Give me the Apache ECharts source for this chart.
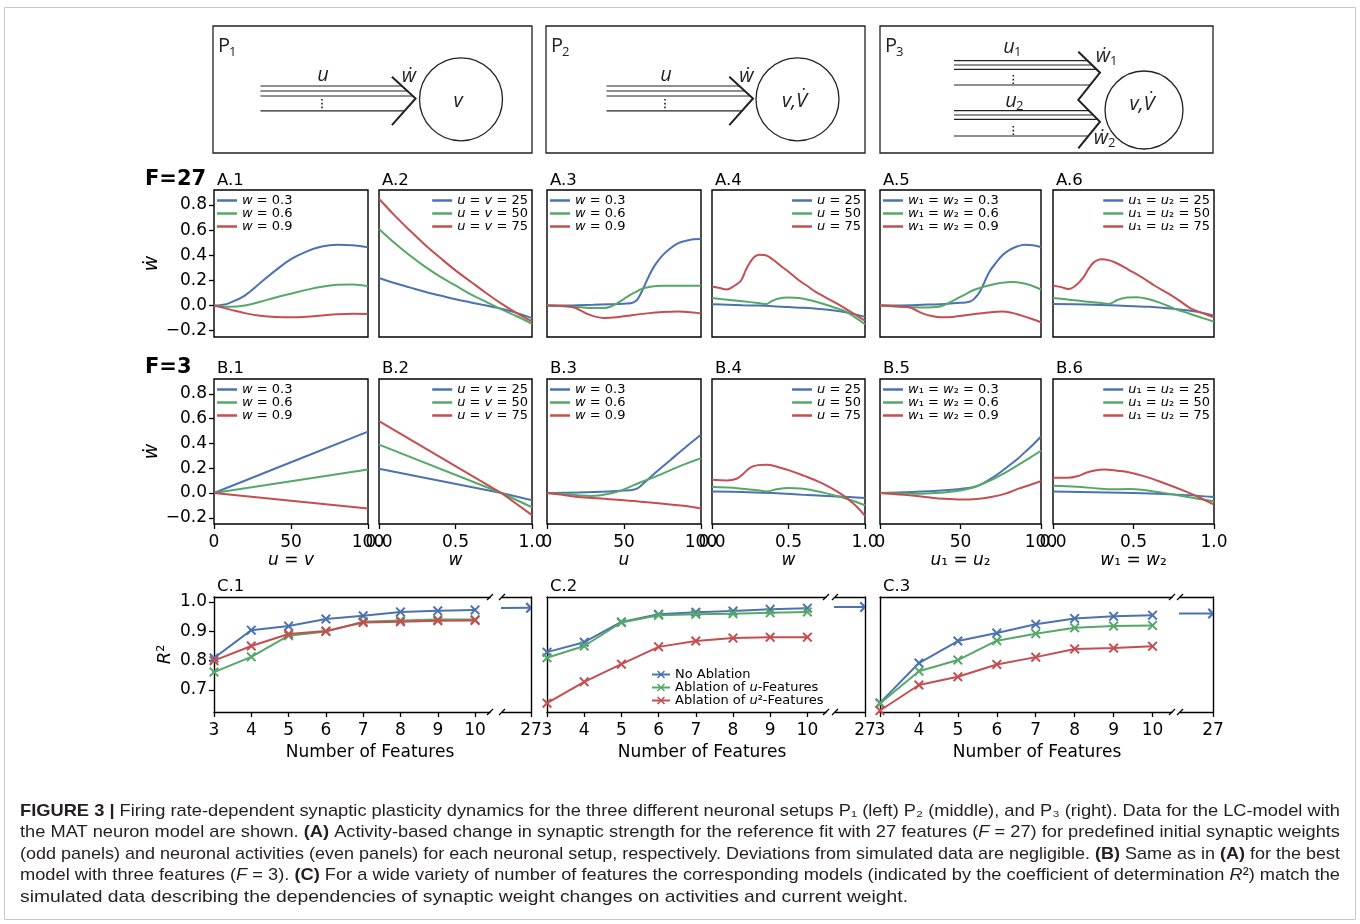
<!DOCTYPE html>
<html>
<head>
<meta charset="utf-8">
<script src="https://cdn.jsdelivr.net/npm/echarts@6/dist/echarts.min.js"></script>
<style>
html, body { margin: 0; padding: 0; background: #fff; }
#chart { width: 1360px; height: 924px; }
</style>
</head>
<body>
<div id="chart"></div>
<script>
// colours (seaborn "deep")
var blue = '#4c72b0', green = '#55a868', red = '#c44e52';

// ---- legend names ----
var wNames = ['w = 0.3', 'w = 0.6', 'w = 0.9'];
var uvNames = ['u = v = 25', 'u = v = 50', 'u = v = 75'];
var uNames = ['u = 25', 'u = 50', 'u = 75'];
var w12Names = ['w₁ = w₂ = 0.3', 'w₁ = w₂ = 0.6', 'w₁ = w₂ = 0.9'];
var u12Names = ['u₁ = u₂ = 25', 'u₁ = u₂ = 50', 'u₁ = u₂ = 75'];
var xNamesB = ['u = v', 'w', 'u', 'w', 'u₁ = u₂', 'w₁ = w₂'];
var yTicksAB = [-0.2, 0, 0.2, 0.4, 0.6, 0.8];

// ---- F = 27 (row A), [x, dw] ----
var a1_w03 = [[0,0],[5,0.005],[10,0.02],[20,0.08],[30,0.18],[40,0.28],[50,0.37],[60,0.43],[70,0.47],[80,0.485],[90,0.48],[100,0.465]];
var a1_w06 = [[0,0],[5,-0.006],[10,-0.01],[20,0],[30,0.03],[40,0.065],[50,0.095],[60,0.125],[70,0.15],[80,0.165],[90,0.168],[100,0.155]];
var a1_w09 = [[0,0],[10,-0.03],[20,-0.06],[30,-0.08],[40,-0.09],[50,-0.092],[60,-0.088],[70,-0.078],[80,-0.068],[90,-0.064],[100,-0.067]];

var a2_25 = [[0,0.22],[0.1,0.18],[0.2,0.145],[0.3,0.11],[0.4,0.08],[0.5,0.05],[0.6,0.025],[0.7,0],[0.8,-0.025],[0.9,-0.058],[1,-0.1]];
var a2_50 = [[0,0.61],[0.1,0.5],[0.2,0.4],[0.3,0.31],[0.4,0.23],[0.5,0.16],[0.6,0.09],[0.7,0.03],[0.8,-0.03],[0.9,-0.085],[1,-0.145]];
var a2_75 = [[0,0.85],[0.1,0.72],[0.2,0.6],[0.3,0.485],[0.4,0.38],[0.5,0.28],[0.6,0.19],[0.7,0.1],[0.8,0.015],[0.9,-0.06],[1,-0.125]];

var a3_w03 = [[0,0],[10,0],[20,0.003],[30,0.006],[40,0.01],[50,0.015],[55,0.02],[58,0.04],[60,0.075],[63,0.15],[66,0.23],[70,0.32],[75,0.4],[80,0.455],[85,0.495],[90,0.515],[95,0.528],[100,0.53]];
var a3_w06 = [[0,0],[10,-0.005],[20,-0.012],[30,-0.02],[37,-0.02],[42,-0.005],[47,0.03],[52,0.07],[57,0.105],[62,0.135],[68,0.152],[75,0.158],[85,0.158],[100,0.158]];
var a3_w09 = [[0,0],[10,-0.003],[17,-0.013],[22,-0.04],[27,-0.07],[32,-0.09],[37,-0.098],[45,-0.093],[55,-0.076],[65,-0.062],[75,-0.052],[85,-0.048],[95,-0.055],[100,-0.063]];

var a4_25 = [[0,0.01],[0.1,0.007],[0.2,0.003],[0.3,0],[0.4,-0.005],[0.5,-0.012],[0.6,-0.018],[0.7,-0.027],[0.8,-0.04],[0.9,-0.06],[1,-0.09]];
var a4_50 = [[0,0.06],[0.1,0.047],[0.2,0.034],[0.3,0.021],[0.355,0.013],[0.39,0.035],[0.43,0.055],[0.5,0.064],[0.57,0.06],[0.65,0.04],[0.73,0.013],[0.8,-0.015],[0.87,-0.045],[0.93,-0.09],[1,-0.147]];
var a4_75 = [[0,0.152],[0.05,0.14],[0.095,0.128],[0.15,0.16],[0.19,0.2],[0.22,0.28],[0.25,0.347],[0.28,0.39],[0.31,0.405],[0.35,0.4],[0.4,0.365],[0.45,0.315],[0.5,0.27],[0.57,0.2],[0.63,0.15],[0.68,0.107],[0.75,0.06],[0.84,0],[0.92,-0.06],[1,-0.12]];

var a5_w03 = [[0,0],[10,0.001],[20,0.003],[30,0.008],[40,0.013],[50,0.022],[56,0.032],[59,0.06],[62,0.11],[65,0.19],[68,0.27],[72,0.34],[76,0.4],[80,0.44],[85,0.47],[90,0.485],[95,0.48],[100,0.467]];
var a5_w06 = [[0,0],[10,-0.007],[20,-0.013],[30,-0.015],[35,-0.012],[40,0.005],[47,0.05],[53,0.09],[59,0.128],[65,0.152],[70,0.168],[76,0.182],[82,0.187],[88,0.18],[94,0.16],[100,0.128]];
var a5_w09 = [[0,0],[10,-0.005],[18,-0.013],[22,-0.035],[26,-0.06],[32,-0.083],[38,-0.093],[45,-0.09],[52,-0.078],[59,-0.067],[67,-0.055],[76,-0.048],[82,-0.058],[88,-0.08],[94,-0.105],[100,-0.133]];

var a6_25 = [[0,0.013],[0.2,0.008],[0.4,0],[0.6,-0.01],[0.76,-0.027],[0.9,-0.05],[1,-0.08]];
var a6_50 = [[0,0.061],[0.1,0.047],[0.2,0.033],[0.3,0.02],[0.345,0.013],[0.4,0.045],[0.46,0.064],[0.52,0.067],[0.59,0.053],[0.67,0.02],[0.76,-0.027],[0.85,-0.065],[0.93,-0.1],[1,-0.128]];
var a6_75 = [[0,0.16],[0.05,0.147],[0.097,0.133],[0.15,0.17],[0.19,0.227],[0.22,0.29],[0.25,0.34],[0.3,0.368],[0.35,0.36],[0.39,0.341],[0.47,0.285],[0.55,0.227],[0.63,0.16],[0.72,0.093],[0.79,0.035],[0.86,-0.027],[0.93,-0.06],[1,-0.093]];

// ---- F = 3 (row B) ----
var b1_w03 = [[0,0],[50,0.248],[100,0.495]];
var b1_w06 = [[0,0],[50,0.095],[100,0.19]];
var b1_w09 = [[0,0],[50,-0.062],[100,-0.125]];

var b2_25 = [[0,0.195],[0.8,0],[1,-0.058]];
var b2_50 = [[0,0.39],[0.8,0],[1,-0.115]];
var b2_75 = [[0,0.58],[0.8,0],[1,-0.178]];

var b3_w03 = [[0,0],[20,0.005],[40,0.013],[50,0.02],[56,0.027],[59,0.04],[62,0.07],[70,0.16],[80,0.265],[90,0.37],[100,0.47]];
var b3_w06 = [[0,0],[10,-0.008],[20,-0.018],[28,-0.024],[35,-0.018],[45,0.008],[52,0.04],[60,0.083],[70,0.13],[82,0.195],[90,0.235],[100,0.28]];
var b3_w09 = [[0,0],[10,-0.015],[20,-0.032],[35,-0.045],[50,-0.058],[65,-0.074],[80,-0.092],[90,-0.105],[100,-0.125]];

var b4_25 = [[0,0.013],[0.2,0.008],[0.4,0],[0.6,-0.015],[0.75,-0.025],[0.9,-0.032],[1,-0.04]];
var b4_50 = [[0,0.048],[0.1,0.045],[0.2,0.035],[0.3,0.022],[0.356,0.013],[0.42,0.03],[0.5,0.04],[0.58,0.037],[0.66,0.021],[0.75,-0.003],[0.84,-0.032],[0.92,-0.062],[1,-0.099]];
var b4_75 = [[0,0.107],[0.1,0.101],[0.16,0.115],[0.2,0.15],[0.25,0.205],[0.3,0.225],[0.356,0.229],[0.43,0.21],[0.51,0.181],[0.6,0.14],[0.7,0.09],[0.78,0.04],[0.84,-0.005],[0.9,-0.06],[0.95,-0.115],[1,-0.184]];

var b5_w03 = [[0,0],[20,0.008],[40,0.022],[55,0.04],[60,0.055],[65,0.085],[70,0.125],[75,0.17],[80,0.22],[85,0.27],[90,0.33],[95,0.39],[100,0.456]];
var b5_w06 = [[0,0],[20,-0.005],[40,0.005],[50,0.02],[60,0.055],[70,0.11],[80,0.18],[90,0.26],[100,0.341]];
var b5_w09 = [[0,0],[15,-0.015],[28,-0.032],[40,-0.047],[51,-0.053],[60,-0.048],[69,-0.032],[78,-0.005],[86,0.035],[93,0.065],[100,0.096]];

var b6_25 = [[0,0.013],[0.5,0],[0.8,-0.015],[1,-0.032]];
var b6_50 = [[0,0.059],[0.15,0.05],[0.3,0.035],[0.36,0.03],[0.47,0.032],[0.55,0.027],[0.65,0.008],[0.75,-0.012],[0.85,-0.035],[1,-0.067]];
var b6_75 = [[0,0.123],[0.09,0.123],[0.15,0.135],[0.21,0.165],[0.26,0.182],[0.32,0.189],[0.4,0.18],[0.47,0.168],[0.58,0.13],[0.7,0.075],[0.8,0.025],[0.9,-0.03],[1,-0.093]];

// ---- R^2 vs number of features (row C) ----
var featureCounts = [3, 4, 5, 6, 7, 8, 9, 10];
var featureTicksFull = [27];
var r2Ticks = [0.7, 0.8, 0.9, 1.0];
var c1NoAbl = [0.809, 0.904, 0.918, 0.942, 0.953, 0.966, 0.970, 0.973];
var c1AblU  = [0.761, 0.813, 0.885, 0.899, 0.933, 0.937, 0.940, 0.940];
var c1AblU2 = [0.800, 0.850, 0.891, 0.901, 0.930, 0.933, 0.936, 0.937];
var c2NoAbl = [0.829, 0.863, 0.932, 0.958, 0.965, 0.969, 0.975, 0.979];
var c2AblU  = [0.810, 0.850, 0.930, 0.955, 0.958, 0.960, 0.963, 0.966];
var c2AblU2 = [0.655, 0.728, 0.788, 0.847, 0.867, 0.877, 0.880, 0.880];
var c3NoAbl = [0.656, 0.792, 0.867, 0.894, 0.924, 0.944, 0.951, 0.955];
var c3AblU  = [0.654, 0.764, 0.802, 0.868, 0.892, 0.912, 0.918, 0.920];
var c3AblU2 = [0.630, 0.717, 0.745, 0.787, 0.812, 0.840, 0.843, 0.849];
var fullModelR2 = [0.980, 0.983, 0.961];   // F = 27, no ablation
var cNames = ['No Ablation', 'Ablation of u-Features', 'Ablation of u²-Features'];

// ---------------- layout ----------------
var colX = [214, 379, 547, 712, 880, 1053];
var colW = [154, 153, 154, 153, 161, 161];
var rowTop = [190, 379], rowH = [147, 145];
var cTop = 597, cH = 115;
var cMainL = [214, 547, 880], cMainW = [276, 279, 292], cMainMax = [10.4, 10.5, 10.5];
var cRightL = [502, 835, 1180], cRightW = [29, 30, 33];

var panels = [
    { title: 'A.1', names: wNames,   data: [a1_w03, a1_w06, a1_w09], xmax: 100 },
    { title: 'A.2', names: uvNames,  data: [a2_25, a2_50, a2_75],    xmax: 1 },
    { title: 'A.3', names: wNames,   data: [a3_w03, a3_w06, a3_w09], xmax: 100 },
    { title: 'A.4', names: uNames,   data: [a4_25, a4_50, a4_75],    xmax: 1 },
    { title: 'A.5', names: w12Names, data: [a5_w03, a5_w06, a5_w09], xmax: 100 },
    { title: 'A.6', names: u12Names, data: [a6_25, a6_50, a6_75],    xmax: 1 },
    { title: 'B.1', names: wNames,   data: [b1_w03, b1_w06, b1_w09], xmax: 100, straight: true },
    { title: 'B.2', names: uvNames,  data: [b2_25, b2_50, b2_75],    xmax: 1, straight: true },
    { title: 'B.3', names: wNames,   data: [b3_w03, b3_w06, b3_w09], xmax: 100 },
    { title: 'B.4', names: uNames,   data: [b4_25, b4_50, b4_75],    xmax: 1 },
    { title: 'B.5', names: w12Names, data: [b5_w03, b5_w06, b5_w09], xmax: 100 },
    { title: 'B.6', names: u12Names, data: [b6_25, b6_50, b6_75],    xmax: 1 }
];
var cPanels = [
    { title: 'C.1', data: [c1NoAbl, c1AblU, c1AblU2] },
    { title: 'C.2', data: [c2NoAbl, c2AblU, c2AblU2] },
    { title: 'C.3', data: [c3NoAbl, c3AblU, c3AblU2] }
];

var FONT = 'DejaVu Sans';
var colors = [blue, green, red];
var xSym = 'path://M0,1.4L1.4,0L5,3.6L8.6,0L10,1.4L6.4,5L10,8.6L8.6,10L5,6.4L1.4,10L0,8.6L3.6,5Z';
var arrowSym = 'path://M0,1.4L1.4,0L5,3.6L5,6.4L1.4,10L0,8.6L3.6,5Z';
var tickStyle = { color: '#000', width: 1.3 };
var labelStyle = { color: '#000', fontSize: 17, fontFamily: FONT };
var italicRich = { i: { fontStyle: 'italic', fontSize: 13, fontFamily: FONT, color: '#000' } };

function fmt1(v) { return (Math.round(v * 10) / 10).toFixed(1).replace('-', '−'); }
function italicVars(s) { return s.replace(/([uvw])/g, '{i|$1}'); }

var grids = [], xAxes = [], yAxes = [], series = [], legends = [], graphic = [];

function addText(x, y, text, opts) {
    opts = opts || {};
    graphic.push({
        type: 'text', x: x, y: y, silent: true,
        style: {
            text: text, fill: opts.color || '#000',
            fontSize: opts.size || 16, fontFamily: opts.font || FONT,
            fontWeight: opts.weight || 'normal', fontStyle: opts.style || 'normal',
            align: opts.align || 'left', verticalAlign: 'middle',
            rich: opts.rich
        }
    });
}

// ---------------- rows A and B ----------------
panels.forEach(function (pn, p) {
    var r = Math.floor(p / 6), c = p % 6;
    grids.push({ left: colX[c], top: rowTop[r], width: colW[c], height: rowH[r],
        show: true, borderColor: '#000', borderWidth: 1.4 });
    var isW = pn.xmax === 1;
    xAxes.push({
        gridIndex: p, type: 'value', min: 0, max: pn.xmax, interval: pn.xmax / 2, position: 'bottom',
        axisLine: { show: false, onZero: false }, splitLine: { show: false },
        axisTick: r === 1 ? { show: true, inside: false, length: 5, lineStyle: tickStyle } : { show: false },
        axisLabel: r === 1 ? Object.assign({ show: true, margin: 10, showMinLabel: true, showMaxLabel: true,
            formatter: function (v) { return isW ? v.toFixed(1) : String(v); } }, labelStyle) : { show: false },
        name: r === 1 ? italicVars(xNamesB[c]) : '',
        nameLocation: 'middle', nameGap: 25,
        nameTextStyle: { fontSize: 17, fontFamily: FONT, color: '#000',
            rich: { i: { fontStyle: 'italic', fontSize: 17, fontFamily: FONT, color: '#000' } } }
    });
    yAxes.push({
        gridIndex: p, type: 'value', min: -0.25, max: 0.92,
        axisLine: { show: false, onZero: false }, splitLine: { show: false },
        axisTick: c === 0 ? { show: true, inside: false, length: 5, lineStyle: tickStyle, customValues: yTicksAB } : { show: false },
        axisLabel: c === 0 ? Object.assign({ show: true, margin: 7, customValues: yTicksAB, formatter: fmt1 }, labelStyle) : { show: false },
        name: c === 0 ? 'ẇ' : '', nameLocation: 'middle', nameGap: 44, nameRotate: 90,
        nameTextStyle: { fontStyle: 'italic', fontSize: 19, fontFamily: FONT, color: '#000' }
    });
    pn.data.forEach(function (d, k) {
        series.push({
            type: 'line', name: pn.names[k], xAxisIndex: p, yAxisIndex: p,
            data: d, symbol: 'none', smooth: pn.straight ? false : 0.4,
            color: colors[k], lineStyle: { width: 2, color: colors[k] }, silent: true, z: 3
        });
    });
    var leg = {
        orient: 'vertical', top: rowTop[r] + 4, padding: 0, itemGap: 0,
        icon: 'rect', itemWidth: 20, itemHeight: 2.5, selectedMode: false, data: pn.names,
        formatter: italicVars,
        textStyle: { fontSize: 13, lineHeight: 13, fontFamily: FONT, color: '#000', rich: italicRich }
    };
    if (c % 2 === 0) leg.left = colX[c] + 3; else leg.right = 1360 - (colX[c] + colW[c]) + 4;
    legends.push(leg);
    addText(colX[c] + 3, r === 0 ? 181 : 369, pn.title, { size: 16.5 });
});

addText(145, 180, 'F=27', { size: 21, weight: 'bold' });
addText(145, 368, 'F=3', { size: 21, weight: 'bold' });

// ---------------- row C ----------------
cPanels.forEach(function (pn, k) {
    var gMain = 12 + 2 * k, gRight = 13 + 2 * k;
    var xb = 12 + 4 * k;
    grids.push({ left: cMainL[k], top: cTop, width: cMainW[k], height: cH });
    grids.push({ left: cRightL[k], top: cTop, width: cRightW[k], height: cH });
    var line = { show: true, onZero: false, lineStyle: { color: '#000', width: 1.4 } };
    // main: bottom + top
    xAxes.push({ gridIndex: gMain, type: 'value', min: 3, max: cMainMax[k], position: 'bottom',
        axisLine: line, splitLine: { show: false },
        axisTick: { show: true, inside: false, length: 5, lineStyle: tickStyle, customValues: featureCounts },
        axisLabel: Object.assign({ show: true, margin: 10, customValues: featureCounts }, labelStyle) });
    xAxes.push({ gridIndex: gMain, type: 'value', min: 3, max: cMainMax[k], position: 'top',
        axisLine: line, splitLine: { show: false }, axisTick: { show: false }, axisLabel: { show: false } });
    // right: bottom + top
    xAxes.push({ gridIndex: gRight, type: 'value', min: 26.2, max: 27, position: 'bottom',
        axisLine: line, splitLine: { show: false },
        axisTick: { show: true, inside: false, length: 5, lineStyle: tickStyle, customValues: featureTicksFull },
        axisLabel: Object.assign({ show: true, margin: 10, customValues: featureTicksFull }, labelStyle) });
    xAxes.push({ gridIndex: gRight, type: 'value', min: 26.2, max: 27, position: 'top',
        axisLine: line, splitLine: { show: false }, axisTick: { show: false }, axisLabel: { show: false } });
    yAxes.push({ gridIndex: gMain, type: 'value', min: 0.625, max: 1.017, position: 'left',
        axisLine: line, splitLine: { show: false },
        axisTick: k === 0 ? { show: true, inside: false, length: 5, lineStyle: tickStyle, customValues: r2Ticks } : { show: false },
        axisLabel: k === 0 ? Object.assign({ show: true, margin: 7, customValues: r2Ticks, formatter: fmt1 }, labelStyle) : { show: false },
        name: k === 0 ? '{i|R}²' : '', nameLocation: 'middle', nameGap: 40, nameRotate: 90,
        nameTextStyle: { fontSize: 18, fontFamily: FONT, color: '#000',
            rich: { i: { fontStyle: 'italic', fontSize: 18, fontFamily: FONT, color: '#000' } } } });
    yAxes.push({ gridIndex: gRight, type: 'value', min: 0.625, max: 1.017, position: 'right',
        axisLine: line, splitLine: { show: false }, axisTick: { show: false }, axisLabel: { show: false } });

    pn.data.forEach(function (vals, s) {
        series.push({
            type: 'line', name: cNames[s], xAxisIndex: xb, yAxisIndex: gMain,
            data: featureCounts.map(function (f, i) { return [f, vals[i]]; }),
            symbol: xSym, symbolSize: 10, showAllSymbol: true,
            color: colors[s], itemStyle: { color: colors[s] },
            lineStyle: { width: 2, color: colors[s] }, silent: true, z: 3 + s
        });
    });
    // full model (F = 27) in the broken-axis part
    series.push({
        type: 'line', name: cNames[0], xAxisIndex: xb + 2, yAxisIndex: gRight, clip: true,
        data: [
            { value: [featureCounts[featureCounts.length - 1], pn.data[0][pn.data[0].length - 1]], symbol: 'none' },
            { value: [27, fullModelR2[k]], symbol: arrowSym, symbolSize: [5.5, 11], symbolOffset: [-2.75, 0] }
        ],
        color: blue, itemStyle: { color: blue }, lineStyle: { width: 2, color: blue }, silent: true
    });

    addText(cMainL[k] + 3, 587, pn.title, { size: 16.5 });
    // break marks
    var xr = cMainL[k] + cMainW[k], xl = cRightL[k];
    [cTop, cTop + cH].forEach(function (yy) {
        [xr, xl].forEach(function (xx) {
            graphic.push({ type: 'line', silent: true,
                shape: { x1: xx - 3, y1: yy + 3, x2: xx + 3, y2: yy - 3 },
                style: { stroke: '#000', lineWidth: 1.3 } });
        });
    });
});
addText(370, 753, 'Number of Features', { size: 17, align: 'center' });
addText(702, 753, 'Number of Features', { size: 17, align: 'center' });
addText(1037, 753, 'Number of Features', { size: 17, align: 'center' });

var cLegendRich = { 'No Ablation': 'No Ablation', 'Ablation of u-Features': 'Ablation of {i|u}-Features',
    'Ablation of u²-Features': 'Ablation of {i|u}²-Features' };
legends.push({
    orient: 'vertical', left: 651, top: 668, padding: 0, itemGap: 0, itemWidth: 18, itemHeight: 10,
    selectedMode: false, data: cNames,
    formatter: function (n) { return cLegendRich[n]; },
    textStyle: { fontSize: 13, lineHeight: 13, fontFamily: FONT, color: '#000', rich: italicRich }
});

// ---------------- schematics P1, P2, P3 ----------------
var SK = '#222', SFONT = 'Open Sans';
function sLine(pts, w) {
    graphic.push({ type: 'polyline', silent: true, shape: { points: pts },
        style: { stroke: SK, lineWidth: w || 1.2, fill: null } });
}
function sDots(x, y1, y2) {
    graphic.push({ type: 'line', silent: true, shape: { x1: x, y1: y1, x2: x, y2: y2 },
        style: { stroke: SK, lineWidth: 1.6, lineDash: [1.6, 2.2] } });
}
function sText(x, y, t, size, italic, align) {
    addText(x, y, t, { size: size, font: SFONT, style: italic ? 'italic' : 'normal', color: SK, align: align || 'center' });
}
function sBox(x, w, label) {
    graphic.push({ type: 'rect', silent: true, shape: { x: x, y: 26, width: w, height: 127 },
        style: { stroke: SK, lineWidth: 1.3, fill: null } });
    sText(x + 5, 46, 'P', 20, false, 'left');
    sText(x + 16, 52, label, 13, false, 'left');
}
function sCircle(cx, cy, r) {
    graphic.push({ type: 'circle', silent: true, shape: { cx: cx, cy: cy, r: r },
        style: { stroke: SK, lineWidth: 1.3, fill: null } });
}
// single-input synapse (P1, P2): vx shifts the drawing horizontally
function singleSynapse(x0, vx, ux, circ, label) {
    var ys = [86, 91, 96], ends = [402, 407.5, 413];
    ys.forEach(function (y, i) { sLine([[x0, y], [ends[i] + vx, y]]); });
    sLine([[x0, 110.8], [404.7 + vx, 110.8]]);
    sLine([[391.9 + vx, 76.8], [415.6 + vx, 98.5], [391.9 + vx, 125.2]], 2);
    sDots(ux, 99, 109);
    sText(ux + 1, 75, 'u', 20, true);
    sText(409 + vx, 76, 'ẇ', 20, true);
    sCircle(circ, 99.3, 41.5);
    sText(circ - 3, 101, label, 20, true);
}
sBox(213, 319, '1');
singleSynapse(260.4, 0, 322, 461, 'v');
sBox(546, 319, '2');
singleSynapse(606.5, 337.4, 665, 797.5, 'v,V\u0307');

sBox(880, 333, '3');
[60.7, 65, 69.3].forEach(function (y, i) { sLine([[954, y], [[1087.6, 1092, 1096.5][i], y]]); });
sLine([[954, 85], [1090.2, 85]]);
[110.7, 115, 119.3].forEach(function (y, i) { sLine([[954, y], [[1089, 1093.3, 1097.6][i], y]]); });
sLine([[954, 136], [1088.3, 136]]);
sLine([[1078.3, 51.7], [1100, 72.7], [1078.3, 100], [1100, 121.7], [1078.3, 148.3]], 2);
sDots(1013.3, 75, 84);
sDots(1013.3, 126, 135);
sText(1009, 47, 'u', 20, true); sText(1014, 52, '1', 13, false, 'left');
sText(1011, 101, 'u', 20, true); sText(1016, 106, '2', 13, false, 'left');
sText(1103, 56, 'ẇ', 20, true); sText(1110, 61, '1', 13, false, 'left');
sText(1101, 138, 'ẇ', 20, true); sText(1108, 143, '2', 13, false, 'left');
sCircle(1144, 110, 39);
sText(1142, 104, 'v,V\u0307', 20, true);

// ---------------- caption ----------------
var captionLines = [
    '{b|FIGURE 3 |} Firing rate-dependent synaptic plasticity dynamics for the three different neuronal setups P₁ (left) P₂ (middle), and P₃ (right). Data for the LC-model with',
    'the MAT neuron model are shown. {b|(A)} Activity-based change in synaptic strength for the reference fit with 27 features ({i|F} = 27) for predefined initial synaptic weights',
    '(odd panels) and neuronal activities (even panels) for each neuronal setup, respectively. Deviations from simulated data are negligible. {b|(B)} Same as in {b|(A)} for the best',
    'model with three features ({i|F} = 3). {b|(C)} For a wide variety of number of features the corresponding models (indicated by the coefficient of determination {i|R}²) match the',
    'simulated data describing the dependencies of synaptic weight changes on activities and current weight.'
];
var capWidths = [1320, 1320, 1320, 1320, 888];
var CAPFONT = '"Liberation Sans"', CAPSIZE = 17, CAPCOL = '#231f20';
var mctx = document.createElement('canvas').getContext('2d');
function capFont(k) { return (k === 'b' ? 'bold ' : '') + (k === 'i' ? 'italic ' : '') + CAPSIZE + 'px ' + CAPFONT; }
function measureRich(s) {
    var re = /\{(\w+)\|([^}]*)\}/g, w = 0, last = 0, m;
    while ((m = re.exec(s))) {
        mctx.font = capFont(''); w += mctx.measureText(s.slice(last, m.index)).width;
        mctx.font = capFont(m[1]); w += mctx.measureText(m[2]).width;
        last = re.lastIndex;
    }
    mctx.font = capFont(''); w += mctx.measureText(s.slice(last)).width;
    return w;
}
captionLines.forEach(function (s, i) {
    graphic.push({
        type: 'text', x: 20, y: 811 + i * 21.5, scaleX: capWidths[i] / measureRich(s), silent: true,
        style: {
            text: s, fill: CAPCOL, fontSize: CAPSIZE, fontFamily: 'Liberation Sans', verticalAlign: 'middle',
            rich: {
                b: { fontWeight: 'bold', fontSize: CAPSIZE, fontFamily: 'Liberation Sans', fill: CAPCOL },
                i: { fontStyle: 'italic', fontSize: CAPSIZE, fontFamily: 'Liberation Sans', fill: CAPCOL }
            }
        }
    });
});
// outer frame
graphic.push({ type: 'rect', silent: true, shape: { x: 4.5, y: 7.5, width: 1351, height: 912 },
    style: { stroke: '#c8c8c8', lineWidth: 1, fill: null }, z: -1 });

var chart = echarts.init(document.getElementById('chart'), null, { renderer: 'canvas' });
chart.setOption({
    animation: false,
    backgroundColor: '#fff',
    textStyle: { fontFamily: FONT },
    grid: grids, xAxis: xAxes, yAxis: yAxes,
    legend: legends, series: series, graphic: graphic
});
</script>
</body>
</html>
